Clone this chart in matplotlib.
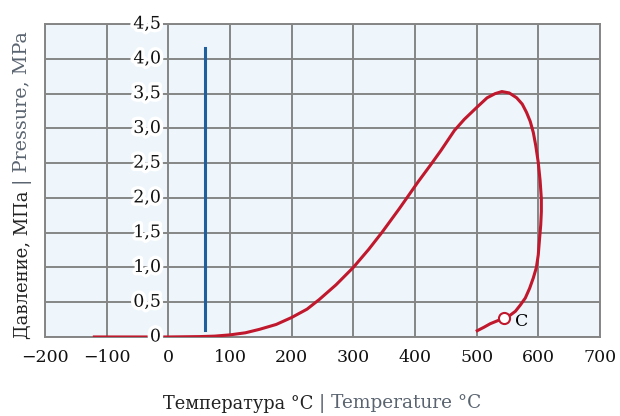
import numpy as np
import matplotlib.pyplot as plt
import matplotlib.patheffects as pe

# red phase curve (temperature °C, pressure MPa), traced from low T round the loop
curve_t = [-120, -60, 0, 50, 75, 100, 125, 148, 175, 200, 225, 245, 272, 300, 325, 347, 375,
           405, 425, 442, 464, 480, 500, 517, 530, 541, 553, 565, 574, 581, 587, 592, 596,
           600, 603, 605, 605, 604, 602, 600, 597, 592, 586, 579, 571, 563, 554, 544, 533,
           522, 512, 501]
curve_p = [0, 0, 0, 0.005, 0.012, 0.03, 0.06, 0.11, 0.18, 0.28, 0.4, 0.54, 0.75, 1.0, 1.26, 1.51, 1.85,
           2.23, 2.47, 2.68, 2.97, 3.13, 3.30, 3.44, 3.50, 3.53, 3.51, 3.44, 3.35, 3.23, 3.10, 2.94, 2.75,
           2.51, 2.25, 1.99, 1.8, 1.61, 1.4, 1.18, 1.0, 0.85, 0.7, 0.56, 0.46, 0.37, 0.31, 0.27, 0.23,
           0.19, 0.14, 0.09]
point_c = (544, 0.27)
blue_t = 60
blue_p = [0.1, 4.15]

yticks = [0, 0.5, 1.0, 1.5, 2.0, 2.5, 3.0, 3.5, 4.0, 4.5]
ylabels = ['0', '0,5', '1,0', '1,5', '2,0', '2,5', '3,0', '3,5', '4,0', '4,5']
xticks = [-200, -100, 0, 100, 200, 300, 400, 500, 600, 700]
xlabels = ['\u2212200', '\u2212100', '0', '100', '200', '300', '400', '500', '600', '700']

plt.rcParams['font.family'] = ['DejaVu Serif']
fig = plt.figure(figsize=(6.2, 4.16), dpi=100)
ax = fig.add_axes([0.0726, 0.19, 0.895, 0.752])
ax.set_facecolor('#eef6fc')
ax.set_xlim(-200, 700)
ax.set_ylim(0, 4.5)
ax.set_xticks(xticks)
ax.set_yticks(yticks)
ax.set_xticklabels(xlabels, fontsize=12.5, color='#111111')
ax.set_yticklabels([])
ax.tick_params(length=0, pad=9)
ax.grid(True, color='#858585', lw=1.4)
for s in ax.spines.values():
    s.set_color('#858585')
    s.set_linewidth(1.4)

ax.plot(curve_t, curve_p, color='#c0182c', lw=2.2, zorder=3, solid_joinstyle='round')
ax.plot([blue_t, blue_t], blue_p, color='#1f5f9c', lw=2.2, zorder=3)
ax.plot(*point_c, 'o', ms=8, mfc='white', mec='#c0182c', mew=1.5, zorder=4)
ax.text(point_c[0] + 18, point_c[1] - 0.05, 'C', fontsize=12.5, va='center', zorder=5)

for v, lab in zip(yticks, ylabels):
    ax.text(-12, v, lab, ha='right', va='center', fontsize=12.5, color='#111111', zorder=6,
            path_effects=[pe.withStroke(linewidth=5, foreground='white')], clip_on=False)

# axis titles in two colours
fig.text(0.037, 0.555, 'Давление, МПа ', rotation=90, rotation_mode='anchor',
         ha='right', va='center', fontsize=13, color='#222222')
fig.text(0.037, 0.555, '| Pressure, MPa', rotation=90, rotation_mode='anchor',
         ha='left', va='center', fontsize=13.8, color='#5a6470')
fig.text(0.515, 0.03, 'Температура °C ', ha='right', va='center', fontsize=12.8, color='#222222')
fig.text(0.515, 0.03, '| Temperature °C', ha='left', va='center', fontsize=13.3, color='#5a6470')

fig.savefig('out.png', dpi=100)
